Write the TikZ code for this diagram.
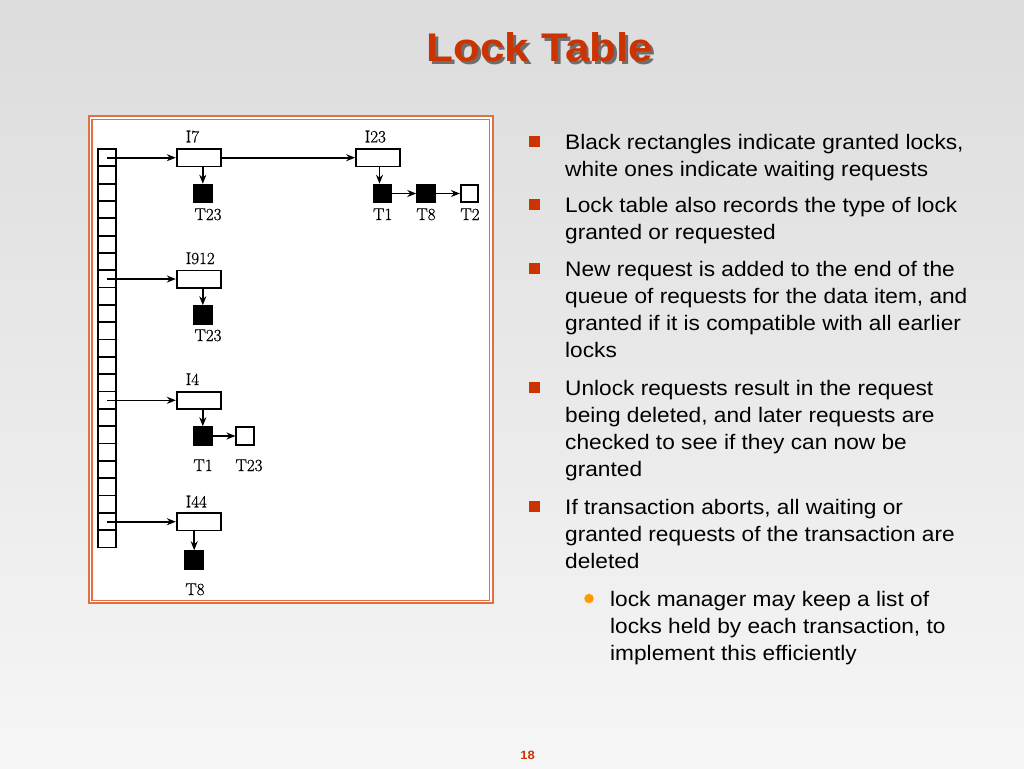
\documentclass[tikz,border=0pt]{standalone}
\usepackage{fontspec}
\newfontfamily\bodyfont[FakeStretch=1.08]{Liberation Sans}
\newfontfamily\titlefont[FakeStretch=1.1]{Liberation Sans}
\newfontfamily\lblfont[FakeBold=0.6]{Latin Modern Roman}
\usetikzlibrary{arrows.meta}
\definecolor{accent}{RGB}{204,51,0}
\definecolor{frameor}{RGB}{226,110,66}
\definecolor{subbul}{RGB}{255,153,0}
\definecolor{bgtop}{RGB}{220,220,220}
\definecolor{bgbot}{RGB}{246,246,246}
\definecolor{shadowc}{RGB}{110,110,110}
\tikzset{
  itembox/.style={draw, line width=1.7pt, fill=white, minimum width=44pt, minimum height=17.3pt, inner sep=0pt},
  granted/.style={draw, line width=1pt, fill=black, minimum size=18.5pt, inner sep=0pt},
  waiting/.style={draw, line width=1.6pt, fill=white, minimum size=17.5pt, inner sep=0pt},
  lbl/.style={font=\lblfont\fontsize{17}{19}\selectfont, inner sep=0pt},
  ptr/.style={line width=1.6pt, -{Stealth[length=9pt,width=7pt]}},
  bodyline/.style={anchor=base west, inner sep=0pt, font=\bodyfont\fontsize{21}{27}\selectfont, text=black},
}
\begin{document}
\begin{tikzpicture}[x=1pt,y=-1pt]
\useasboundingbox (0,0) rectangle (1024,768);
\shade[top color=bgtop, bottom color=bgbot] (0,0) rectangle (1024,768);

% title (with its drop shadow inside the same node)
\node[anchor=base, inner sep=0pt, font=\titlefont\bfseries\fontsize{40}{44}\selectfont] (title) at (540,62)
  {\makebox[0pt][l]{\hspace{2.5pt}\raisebox{-2.5pt}{\textcolor{shadowc}{Lock Table}}}\textcolor{accent}{Lock Table}};

% frame
\draw[frameor, line width=1.8pt, fill=white] (88.8,115.8) rectangle (492.7,603.2);
\draw[frameor, line width=1.2pt] (92,119.5) rectangle (489.3,600.5);

% hash table column
\foreach \k in {0,...,22} {
  \draw[line width=1.7pt] (98.3,{149+\k*17.33}) rectangle (116,{149+(\k+1)*17.33});
}
\coordinate (h1) at (107,157.7);
\coordinate (h8) at (107,279);
\coordinate (h15) at (107,400.3);
\coordinate (h22) at (107,521.7);

% item boxes
\node[itembox] (i7) at (198.7,157.7) {};
\node[itembox] (i23) at (378,157.7) {};
\node[itembox] (i912) at (198.7,279) {};
\node[itembox] (i4) at (198.7,400.3) {};
\node[itembox] (i44) at (198.7,521.7) {};

\node[lbl, anchor=base west] (li7) at (185.5,142.3) {I7};
\node[lbl, anchor=base west] (li23) at (364.5,142.3) {I23};
\node[lbl, anchor=base west] (li912) at (185.5,264) {I912};
\node[lbl, anchor=base west] (li4) at (185.5,385) {I4};
\node[lbl, anchor=base west] (li44) at (185.5,507.3) {I44};

% lock squares
\node[granted] (a23) at (202.8,193.5) {};
\node[granted] (b1) at (382.5,193.5) {};
\node[granted] (b8) at (426,193.5) {};
\node[waiting] (b2) at (469.5,193.5) {};
\node[granted] (c23) at (202.8,315) {};
\node[granted] (d1) at (202.8,436) {};
\node[waiting] (d23) at (245,436) {};
\node[granted] (e8) at (194.2,560) {};

\node[lbl, anchor=base] (ta23) at (208,220) {T23};
\node[lbl, anchor=base] (tb1) at (382.7,220) {T1};
\node[lbl, anchor=base] (tb8) at (426,220) {T8};
\node[lbl, anchor=base] (tb2) at (470,220) {T2};
\node[lbl, anchor=base] (tc23) at (208,341) {T23};
\node[lbl, anchor=base] (td1) at (203,471) {T1};
\node[lbl, anchor=base] (td23) at (249,471) {T23};
\node[lbl, anchor=base] (te8) at (195,595) {T8};

% pointers
\draw[ptr] (h1) -- (i7.west);
\draw[ptr] (i7.east) -- (i23.west);
\draw[ptr] (h8) -- (i912.west);
\draw[ptr] (h15) -- (i4.west);
\draw[ptr] (h22) -- (i44.west);

\draw[ptr] (a23.north |- i7.south) -- (a23.north);
\draw[ptr] ([xshift=-3pt]b1.north |- i23.south) -- ([xshift=-3pt]b1.north);
\draw[ptr] (b1.east) -- (b8.west);
\draw[ptr] (b8.east) -- (b2.west);
\draw[ptr] (c23.north |- i912.south) -- (c23.north);
\draw[ptr] (d1.north |- i4.south) -- (d1.north);
\draw[ptr] (d1.east) -- (d23.west);
\draw[ptr] (e8.north |- i44.south) -- (e8.north);

% bullets
\foreach \y [count=\i] in {141,204,268,387,506} {
  \node[fill=accent, minimum size=11pt, inner sep=0pt] (bul\i) at (534.5,\y) {};
}
\node[circle, fill=subbul, minimum size=9.5pt, inner sep=0pt] (subbul1) at (589,598.5) {};

% body text
\foreach \y/\t [count=\i] in {
  149/{Black rectangles indicate granted locks,},
  176/{white ones indicate waiting requests},
  212/{Lock table also records the type of lock},
  239/{granted or requested},
  276/{New request is added to the end of the},
  303/{queue of requests for the data item, and},
  330/{granted if it is compatible with all earlier},
  357/{locks},
  395/{Unlock requests result in the request},
  422/{being deleted, and later requests are},
  449/{checked to see if they can now be},
  476/{granted},
  514/{If transaction aborts, all waiting or},
  541/{granted requests of the transaction are},
  568/{deleted}} {
  \node[bodyline] (line\i) at (565,\y) {\t};
}
\foreach \y/\t [count=\i] in {
  606/{lock manager may keep a list of},
  633/{locks held by each transaction, to},
  660/{implement this efficiently}} {
  \node[bodyline] (subline\i) at (610,\y) {\t};
}

% page number
\node[anchor=base, inner sep=0pt, text=accent, font=\bodyfont\bfseries\fontsize{12}{14}\selectfont] (pagenum) at (527.5,759) {18};
\end{tikzpicture}
\end{document}
